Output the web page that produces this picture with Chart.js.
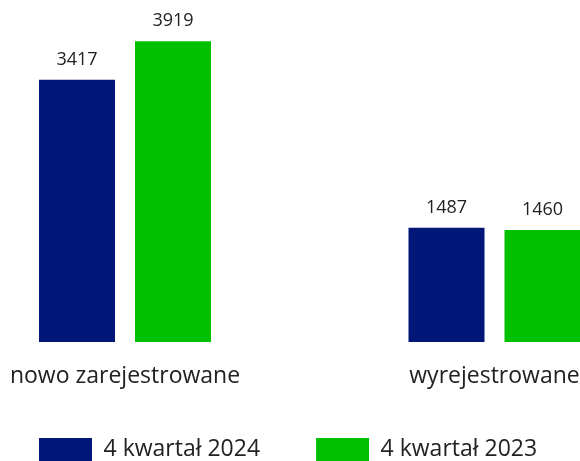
<!DOCTYPE html>
<html>
<head>
<meta charset="utf-8">
<script src="https://cdn.jsdelivr.net/npm/chart.js@4.4.1/dist/chart.umd.min.js"></script>
<style>
  html, body { margin: 0; padding: 0; background: #fff; }
</style>
</head>
<body>
<canvas id="myChart" width="580" height="461"></canvas>
<script>
const categories = ['nowo zarejestrowane', 'wyrejestrowane'];
const seriesNames = ['4 kwartał 2024', '4 kwartał 2023'];
const values2024 = [3417, 1487];
const values2023 = [3919, 1460];
const barColors = ['#001777', '#00c000'];

const fontFamily = "'Open Sans', sans-serif";
const textSize = 23;
Chart.defaults.font.family = fontFamily;
Chart.defaults.color = '#222';

// measure the first legend label so the second item lands at the right spot
const measure = document.createElement('canvas').getContext('2d');
measure.font = textSize + 'px ' + fontFamily;
const legendTextW = measure.measureText(seriesNames[0]).width;
const legendPad = Math.round(277 - 53 - textSize / 2 - legendTextW);

// numbers above the bars
const valueLabels = {
  id: 'valueLabels',
  afterDatasetsDraw(chart) {
    const ctx = chart.ctx;
    ctx.save();
    ctx.font = '18px ' + fontFamily;
    ctx.fillStyle = '#222';
    ctx.textAlign = 'center';
    ctx.textBaseline = 'middle';
    chart.data.datasets.forEach((ds, i) => {
      chart.getDatasetMeta(i).data.forEach((bar, j) => {
        ctx.fillText(ds.data[j], bar.x, bar.y - 20);
      });
    });
    ctx.restore();
  }
};

new Chart('myChart', {
  type: 'bar',
  data: {
    labels: categories,
    datasets: [
      { label: seriesNames[0], data: values2024, backgroundColor: barColors[0], clip: false,
        categoryPercentage: 0.5196, barPercentage: 0.7917 },
      { label: seriesNames[1], data: values2023, backgroundColor: barColors[1], clip: false,
        categoryPercentage: 0.5196, barPercentage: 0.7917 }
    ]
  },
  options: {
    responsive: false,
    animation: false,
    layout: { padding: { top: 35, left: 39 - legendPad, right: -60, bottom: -10 } },
    plugins: {
      legend: {
        position: 'bottom',
        align: 'start',
        labels: { boxWidth: 53, boxHeight: 23, padding: legendPad, font: { size: textSize }, color: '#222' }
      },
      tooltip: { enabled: false }
    },
    scales: {
      x: {
        offset: false,
        grid: { display: false },
        border: { display: false },
        // mirror keeps the labels from being clipped to the (short) axis box;
        // mirrored labels go upward, so the padding is negative to push them below the bars
        ticks: { mirror: true, padding: -48, maxRotation: 0, autoSkip: false, font: { size: textSize }, color: '#222' },
        afterFit(scale) {
          scale.paddingLeft = 125;
          scale.paddingRight = 85.5;
          scale.height = 96 - legendPad;
        }
      },
      y: { display: false, min: 0, max: 4000 }
    }
  },
  plugins: [valueLabels]
});
</script>
</body>
</html>
